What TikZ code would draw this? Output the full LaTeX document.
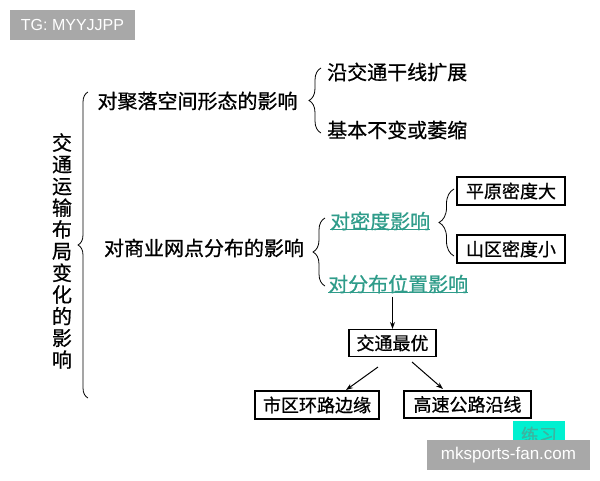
\documentclass[tikz,border=0pt]{standalone}
\usepackage{fontspec}
\setmainfont{Liberation Sans}
\newfontfamily\cjk{Noto Sans CJK SC}[FakeBold=0.7]
\usetikzlibrary{decorations.pathreplacing,arrows.meta}
\definecolor{tealtxt}{HTML}{2F9C8A}
\definecolor{wmgray}{HTML}{A8A8A8}
\definecolor{aquafill}{HTML}{00F0D0}
\definecolor{lxtext}{HTML}{3CB4A0}
\begin{document}
\begin{tikzpicture}[x=1pt,y=-1pt,
  txt/.style={font=\cjk\fontsize{20}{24}\selectfont, inner sep=0pt, text=black},
  gtxt/.style={txt, text=tealtxt},
  bx/.style={draw, line width=1.1pt, font=\cjk\fontsize{18}{22}\selectfont, inner sep=0pt, minimum height=28pt},
  brc/.style={decorate, decoration={brace, amplitude=#1}, line width=0.8pt},
  arr/.style={-{Stealth[length=7pt,width=5pt]}, line width=1pt},
  wm/.style={fill=wmgray, text=white, inner sep=0pt}
]
\useasboundingbox (0,0) rectangle (600,480);
\fill[white] (0,0) rectangle (600,480);

% vertical title
\node[txt, align=center, font=\cjk\fontsize{20}{21.7}\selectfont] (title) at (62,251)
  {交\\通\\运\\输\\布\\局\\变\\化\\的\\影\\响};

% big brace
\coordinate (bb1) at (88,398);
\coordinate (bb2) at (88,92);
\draw[brc=10pt] (bb1) -- (bb2);

% first branch
\node[txt] (n1) at (197.5,101) {对聚落空间形态的影响};
\coordinate (b1a) at (321,133);
\coordinate (b1b) at (321,68);
\draw[brc=12pt] (b1a) -- (b1b);
\node[txt, anchor=west] (n1a) at (327,72) {沿交通干线扩展};
\node[txt, anchor=west] (n1b) at (327,130) {基本不变或萎缩};

% second branch
\node[txt] (n2) at (204,248) {对商业网点分布的影响};
\coordinate (b2a) at (325,286);
\coordinate (b2b) at (325,218);
\draw[brc=12pt] (b2a) -- (b2b);
\node[gtxt, anchor=west] (d1) at (330,221) {对密度影响};
\draw[tealtxt, line width=1pt] ([yshift=1pt]d1.south west) -- ([yshift=1pt]d1.south east);
\node[gtxt, anchor=west] (d2) at (328,284) {对分布位置影响};
\draw[tealtxt, line width=1pt] ([yshift=1pt]d2.south west) -- ([yshift=1pt]d2.south east);

% density brace
\coordinate (b3a) at (454,256);
\coordinate (b3b) at (454,189);
\draw[brc=15pt] (b3a) -- (b3b);
\node[bx, minimum width=108pt] (p1) at (511,191) {平原密度大};
\node[bx, minimum width=108pt] (p2) at (511,249) {山区密度小};

% location chain
\node[bx, minimum width=87pt, minimum height=27pt] (best) at (392.5,343) {交通最优};
\draw[arr] (best.north |- d2.south) ++(0,3) coordinate (s0) (s0) -- (best.north);
\node[bx, minimum width=124pt] (c1) at (317,405) {市区环路边缘};
\node[bx, minimum width=127pt, minimum height=27pt] (c2) at (467.5,404.5) {高速公路沿线};
\coordinate (a1s) at (378,367);
\coordinate (a1e) at (346,390);
\coordinate (a2s) at (412,362);
\coordinate (a2e) at (443,389);
\draw[arr] (a1s) -- (a1e);
\draw[arr] (a2s) -- (a2e);

% practice button
\node[fill=aquafill, minimum width=52pt, minimum height=28pt, inner sep=0pt,
  text=lxtext, font=\cjk\fontsize{18}{22}\selectfont] (lx) at (539,435) {练习};

% watermarks
\node[wm, minimum width=125pt, minimum height=30pt, font=\fontsize{16}{20}\selectfont] (tg) at (72.5,25) {TG: MYYJJPP};
\node[wm, minimum width=163pt, minimum height=30pt, font=\fontsize{17}{20}\selectfont] (mk) at (508.5,455) {mksports-fan.com};
\end{tikzpicture}
\end{document}
